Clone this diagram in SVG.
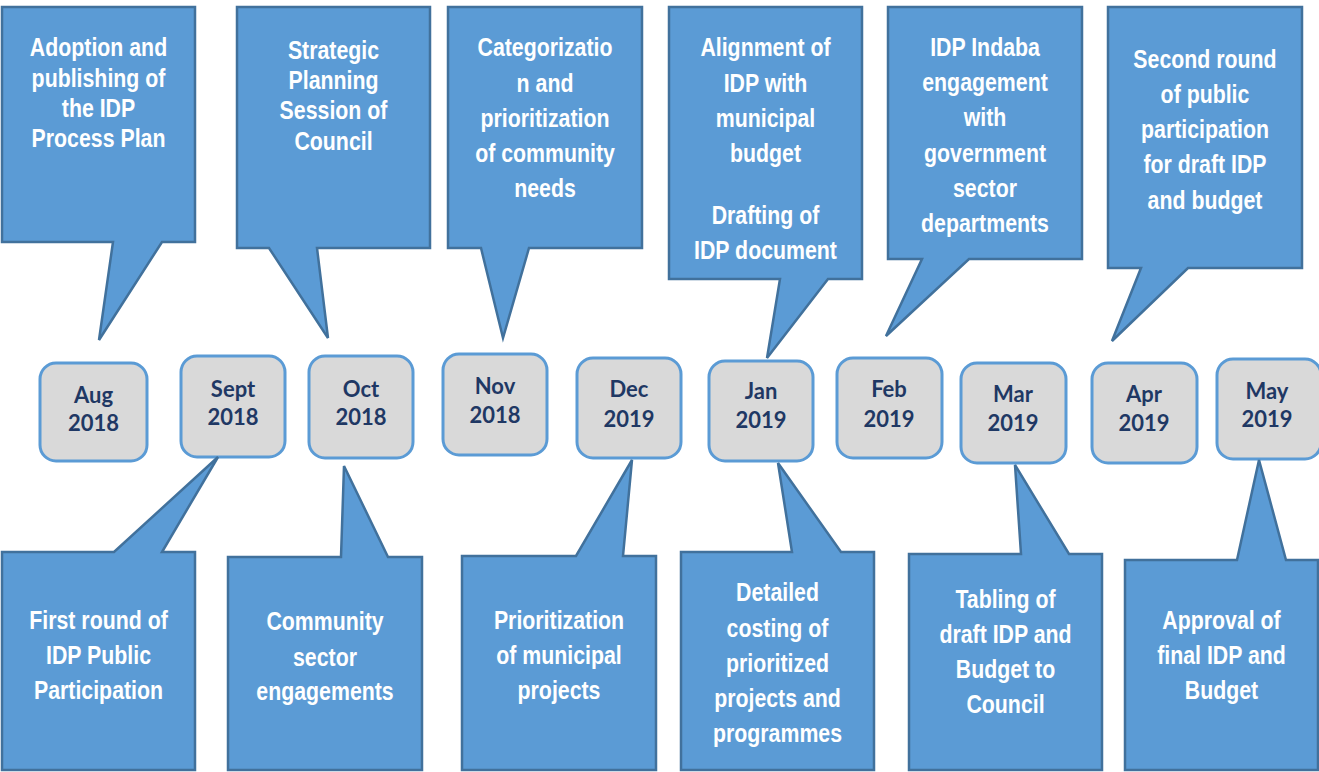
<svg xmlns="http://www.w3.org/2000/svg" width="1319" height="772" viewBox="0 0 1319 772">
  <style>
    .callout { fill: #5b9bd5; stroke: #41719c; stroke-width: 2.5; stroke-linejoin: miter; }
    .date { fill: #d9d9d9; stroke: #5b9bd5; stroke-width: 3; }
    .ct text { fill: #ffffff; font-family: "Liberation Sans", Arial, sans-serif; font-weight: bold; font-size: 26px; text-anchor: middle; }
    .dt { fill: #1f3864; font-family: Lato, "Open Sans", sans-serif; font-weight: bold; font-size: 22px; text-anchor: middle; }
  </style>

  <!-- timeline months -->
  <g id="m-aug"><rect class="date" x="40" y="363" width="107" height="98" rx="16"/><text class="dt" x="93.5" y="403">Aug</text><text class="dt" x="93.5" y="431">2018</text></g>
  <g id="m-sept"><rect class="date" x="181" y="356" width="104" height="101" rx="16"/><text class="dt" x="233" y="397">Sept</text><text class="dt" x="233" y="425">2018</text></g>
  <g id="m-oct"><rect class="date" x="309" y="356" width="104" height="102" rx="16"/><text class="dt" x="361" y="397">Oct</text><text class="dt" x="361" y="425">2018</text></g>
  <g id="m-nov"><rect class="date" x="443" y="354" width="104" height="101" rx="16"/><text class="dt" x="495" y="394">Nov</text><text class="dt" x="495" y="423">2018</text></g>
  <g id="m-dec"><rect class="date" x="577" y="358" width="104" height="100" rx="16"/><text class="dt" x="629" y="397">Dec</text><text class="dt" x="629" y="427">2019</text></g>
  <g id="m-jan"><rect class="date" x="709" y="361" width="104" height="100" rx="16"/><text class="dt" x="761" y="399">Jan</text><text class="dt" x="761" y="428">2019</text></g>
  <g id="m-feb"><rect class="date" x="837" y="358" width="105" height="100" rx="16"/><text class="dt" x="889" y="397">Feb</text><text class="dt" x="889" y="427">2019</text></g>
  <g id="m-mar"><rect class="date" x="961" y="363" width="105" height="100" rx="16"/><text class="dt" x="1013" y="402">Mar</text><text class="dt" x="1013" y="431">2019</text></g>
  <g id="m-apr"><rect class="date" x="1092" y="363" width="105" height="100" rx="16"/><text class="dt" x="1144" y="402">Apr</text><text class="dt" x="1144" y="431">2019</text></g>
  <g id="m-may"><rect class="date" x="1217" y="359" width="104" height="100" rx="16"/><text class="dt" x="1267" y="399">May</text><text class="dt" x="1267" y="427">2019</text></g>

  <!-- upper callouts (label text narrowed horizontally) -->
  <g id="c-process-plan">
    <path class="callout" d="M2,7 H195 V242 H162 L99,340 L113,242 H2 Z"/>
    <g class="ct" transform="translate(98.5 0) scale(0.82 1)">
      <text x="0" y="56">Adoption and</text>
      <text x="0" y="87">publishing of</text>
      <text x="0" y="117">the IDP</text>
      <text x="0" y="147">Process Plan</text>
    </g>
  </g>
  <g id="c-strategic">
    <path class="callout" d="M237,7 H430 V248 H317 L328,338 L269,248 H237 Z"/>
    <g class="ct" transform="translate(333.5 0) scale(0.82 1)">
      <text x="0" y="59">Strategic</text>
      <text x="0" y="89">Planning</text>
      <text x="0" y="119">Session of</text>
      <text x="0" y="150">Council</text>
    </g>
  </g>
  <g id="c-categorization">
    <path class="callout" d="M448,7 H642 V248 H529 L503,338 L481,248 H448 Z"/>
    <g class="ct" transform="translate(545 0) scale(0.82 1)">
      <text x="0" y="56">Categorizatio</text>
      <text x="0" y="92">n and</text>
      <text x="0" y="127">prioritization</text>
      <text x="0" y="162">of community</text>
      <text x="0" y="197">needs</text>
    </g>
  </g>
  <g id="c-alignment">
    <path class="callout" d="M669,7 H862 V279 H828 L767,358 L780,279 H669 Z"/>
    <g class="ct" transform="translate(765.5 0) scale(0.82 1)">
      <text x="0" y="56">Alignment of</text>
      <text x="0" y="92">IDP with</text>
      <text x="0" y="127">municipal</text>
      <text x="0" y="162">budget</text>
      <text x="0" y="224">Drafting of</text>
      <text x="0" y="259">IDP document</text>
    </g>
  </g>
  <g id="c-indaba">
    <path class="callout" d="M888,7 H1082 V259 H969 L886,336 L922,259 H888 Z"/>
    <g class="ct" transform="translate(985 0) scale(0.82 1)">
      <text x="0" y="56">IDP Indaba</text>
      <text x="0" y="91">engagement</text>
      <text x="0" y="126">with</text>
      <text x="0" y="162">government</text>
      <text x="0" y="197">sector</text>
      <text x="0" y="232">departments</text>
    </g>
  </g>
  <g id="c-second-round">
    <path class="callout" d="M1108,7 H1302 V268 H1188 L1112,341 L1141,268 H1108 Z"/>
    <g class="ct" transform="translate(1205 0) scale(0.82 1)">
      <text x="0" y="68">Second round</text>
      <text x="0" y="103">of public</text>
      <text x="0" y="138">participation</text>
      <text x="0" y="173">for draft IDP</text>
      <text x="0" y="209">and budget</text>
    </g>
  </g>

  <!-- lower callouts -->
  <g id="c-first-round">
    <path class="callout" d="M2,552 H114 L218,457 L162,552 H195 V770 H2 Z"/>
    <g class="ct" transform="translate(98.5 0) scale(0.82 1)">
      <text x="0" y="629">First round of</text>
      <text x="0" y="664">IDP Public</text>
      <text x="0" y="699">Participation</text>
    </g>
  </g>
  <g id="c-community">
    <path class="callout" d="M228,557 H341 L344,466 L388,557 H422 V770 H228 Z"/>
    <g class="ct" transform="translate(325 0) scale(0.82 1)">
      <text x="0" y="630">Community</text>
      <text x="0" y="666">sector</text>
      <text x="0" y="700">engagements</text>
    </g>
  </g>
  <g id="c-prioritization">
    <path class="callout" d="M462,556 H576 L632,460 L623,556 H656 V770 H462 Z"/>
    <g class="ct" transform="translate(559 0) scale(0.82 1)">
      <text x="0" y="629">Prioritization</text>
      <text x="0" y="664">of municipal</text>
      <text x="0" y="699">projects</text>
    </g>
  </g>
  <g id="c-costing">
    <path class="callout" d="M681,552 H792 L778,463 L841,552 H874 V770 H681 Z"/>
    <g class="ct" transform="translate(777.5 0) scale(0.82 1)">
      <text x="0" y="601">Detailed</text>
      <text x="0" y="637">costing of</text>
      <text x="0" y="672">prioritized</text>
      <text x="0" y="707">projects and</text>
      <text x="0" y="742">programmes</text>
    </g>
  </g>
  <g id="c-tabling">
    <path class="callout" d="M909,554 H1021 L1015,465 L1069,554 H1102 V770 H909 Z"/>
    <g class="ct" transform="translate(1005.5 0) scale(0.82 1)">
      <text x="0" y="608">Tabling of</text>
      <text x="0" y="643">draft IDP and</text>
      <text x="0" y="678">Budget to</text>
      <text x="0" y="713">Council</text>
    </g>
  </g>
  <g id="c-approval">
    <path class="callout" d="M1125,560 H1237 L1259,460 L1286,560 H1318 V770 H1125 Z"/>
    <g class="ct" transform="translate(1221.5 0) scale(0.82 1)">
      <text x="0" y="629">Approval of</text>
      <text x="0" y="664">final IDP and</text>
      <text x="0" y="699">Budget</text>
    </g>
  </g>
</svg>
